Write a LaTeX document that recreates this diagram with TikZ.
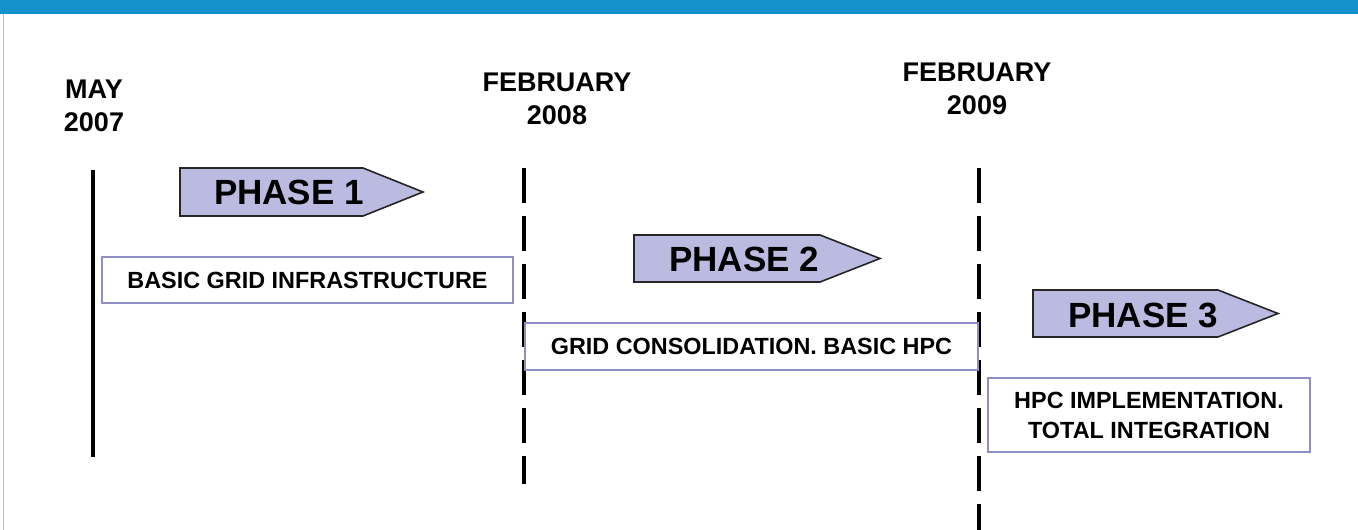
\documentclass[tikz,border=0pt]{standalone}
\usepackage{fontspec}
\setmainfont{Liberation Sans}
\definecolor{bandblue}{HTML}{1490CA}
\definecolor{phasefill}{HTML}{BBBBE2}
\definecolor{boxline}{HTML}{8E8EC2}
\begin{document}
\begin{tikzpicture}[x=1pt,y=-1pt,
  datelbl/.style={font=\fontsize{27}{32.5}\selectfont\bfseries, align=center, inner sep=0pt, anchor=north},
  phasetxt/.style={font=\fontsize{35}{40}\selectfont\bfseries, inner sep=0pt},
  phasearrow/.style={draw=black!85, line width=1.6pt, fill=phasefill, line join=miter},
  taskbox/.style={draw=boxline, line width=1.5pt, inner sep=0pt, align=center,
     font=\fontsize{23.4}{30}\selectfont\bfseries},
  milestone/.style={line width=3.5pt, black},
  msdash/.style={milestone, dash pattern=on 35pt off 13pt}]
\useasboundingbox (0,0) rectangle (1358,530);
\fill[white] (0,0) rectangle (1358,530);
% top band and left rule
\fill[bandblue] (0,0) rectangle (1358,14);
\coordinate (rt) at (3,14);
\coordinate (rb) at (3,530);
\draw[black!25, line width=1pt] (rt) -- (rb);

% date labels
\node[datelbl] (d1) at (94,80) {MAY\\2007};
\node[datelbl] (d2) at (557,73) {FEBRUARY\\2008};
\node[datelbl] (d3) at (977,63) {FEBRUARY\\2009};

% milestone lines
\coordinate (m1t) at (93,170);  \coordinate (m1b) at (93,457);
\coordinate (m2t) at (524,168); \coordinate (m2b) at (524,484);
\coordinate (m3t) at (979,168); \coordinate (m3b) at (979,530);
\draw[milestone] (m1t) -- (m1b);
\draw[msdash] (m2t) -- (m2b);
\draw[msdash] (m3t) -- (m3b);

% phase arrows
\draw[phasearrow] (180,168) -- (363,168) -- (423,192) -- (363,216) -- (180,216) -- cycle;
\node[phasetxt] (p1) at (289,192) {PHASE 1};
\draw[phasearrow] (634,235) -- (820,235) -- (880,258.5) -- (820,282) -- (634,282) -- cycle;
\node[phasetxt] (p2) at (744,259) {PHASE 2};
\draw[phasearrow] (1033,290) -- (1218,290) -- (1278,313.5) -- (1218,337) -- (1033,337) -- cycle;
\node[phasetxt] (p3) at (1143,315) {PHASE 3};

% task boxes
\node[taskbox, minimum width=411pt, minimum height=46pt] (t1) at (307.5,280) {BASIC GRID INFRASTRUCTURE};
\node[taskbox, minimum width=453pt, minimum height=47pt] (t2) at (751.5,346.5) {GRID CONSOLIDATION. BASIC HPC};
\node[taskbox, minimum width=322pt, minimum height=74pt] (t3) at (1149,415) {HPC IMPLEMENTATION.\\TOTAL INTEGRATION};
\end{tikzpicture}
\end{document}
